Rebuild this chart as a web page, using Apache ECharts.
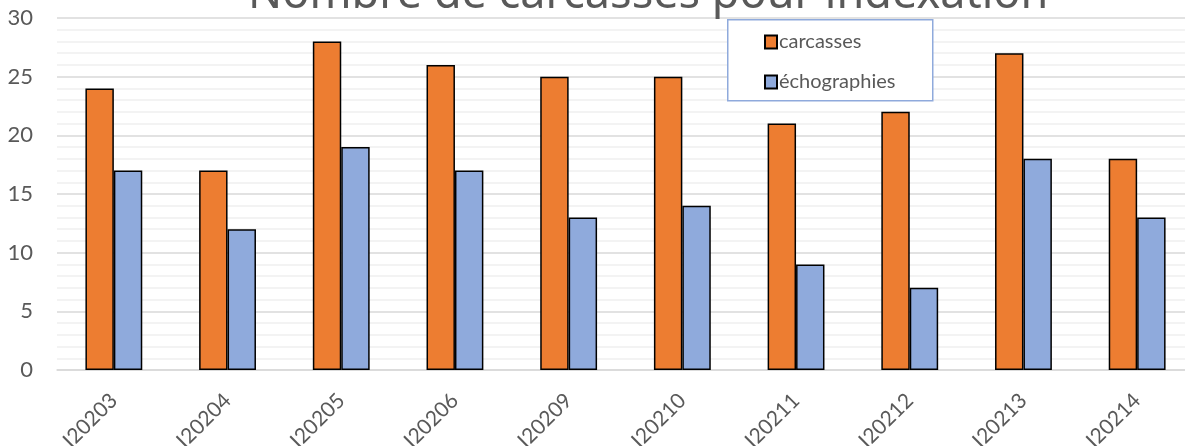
<!DOCTYPE html>
<html>
<head>
<meta charset="utf-8">
<script src="https://cdn.jsdelivr.net/npm/echarts@6/dist/echarts.min.js"></script>
<style>html,body{margin:0;padding:0;background:#fff}#c{width:1185px;height:446px}</style>
</head>
<body>
<div id="c"></div>
<script>
const categories = ['I20203','I20204','I20205','I20206','I20209','I20210','I20211','I20212','I20213','I20214'];
const carcasses = [24,17,28,26,25,25,21,22,27,18];
const echographies = [17,12,19,17,13,14,9,7,18,13];
const yTicks = [0,5,10,15,20,25,30];

const chart = echarts.init(document.getElementById('c'));
const font = 'Lato';
chart.setOption({
  animation: false,
  backgroundColor: '#fff',
  title: {
    text: 'Nombre de carcasses pour indexation',
    left: 248, top: -27, padding: 0,
    textStyle: {fontFamily: 'Noto Sans', fontSize: 45, fontWeight: 'normal', color: '#595959'}
  },
  graphic: [{
    type: 'rect', left: 727, top: 19, z: 10,
    shape: {width: 205, height: 81},
    style: {fill: '#fff', stroke: '#8FAADC', lineWidth: 1.5}
  }],
  legend: {
    orient: 'vertical', left: 759, top: 27, z: 20,
    itemWidth: 12, itemHeight: 13, itemGap: 20, icon: 'rect',
    textStyle: {fontFamily: font, fontSize: 20, color: '#595959', padding: [0,0,0,-3]},
    data: ['carcasses','échographies']
  },
  grid: {left: 57, top: 18, width: 1137, bottom: 76, containLabel: false, outerBoundsMode: 'none'},
  xAxis: {
    type: 'category', data: categories,
    axisLine: {lineStyle: {color: '#d9d9d9', width: 1.5}},
    axisTick: {show: false},
    axisLabel: {rotate: 45, fontFamily: font, fontSize: 21, color: '#595959', margin: 27}
  },
  yAxis: {
    type: 'value', min: yTicks[0], max: yTicks[yTicks.length-1], interval: 5,
    axisLine: {show: false}, axisTick: {show: false},
    axisLabel: {fontFamily: font, fontSize: 22, color: '#595959', margin: 24},
    splitLine: {lineStyle: {color: '#d9d9d9', width: 1.5}},
    minorTick: {show: false, splitNumber: 5},
    minorSplitLine: {show: true, lineStyle: {color: '#efefef', width: 1.5}}
  },
  series: [
    {name: 'carcasses', type: 'bar', data: carcasses, barGap: '0%', barCategoryGap: '50%',
     itemStyle: {color: '#ED7D31', borderColor: '#000', borderWidth: 1.5}},
    {name: 'échographies', type: 'bar', data: echographies, barGap: '0%', barCategoryGap: '50%',
     itemStyle: {color: '#8FAADC', borderColor: '#000', borderWidth: 1.5}}
  ]
});
</script>
</body>
</html>
